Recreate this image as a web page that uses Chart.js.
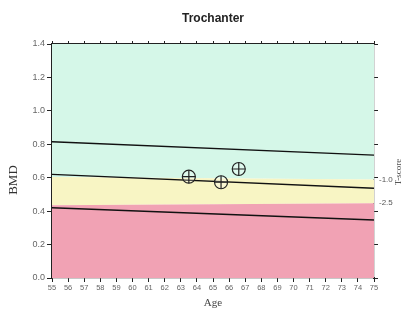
<!DOCTYPE html>
<html>
<head>
<meta charset="utf-8">
<script src="https://cdn.jsdelivr.net/npm/chart.js@4/dist/chart.umd.min.js"></script>
<style>
  html, body { margin: 0; padding: 0; background: #fff; }
  #wrap { width: 416px; height: 316px; }
</style>
</head>
<body>
<div id="wrap"><canvas id="bmdChart" width="416" height="316"></canvas></div>
<script>
// reference curve ends (age 55 and 75)
const refAges = [55, 75];
const upperLine = [0.815, 0.735];
const middleLine = [0.62, 0.537];
const lowerLine = [0.42, 0.347];

// band tops
const greenTop = [1.4, 1.4];
const yellowTop = [0.605, 0.59];
const pinkTop = [0.435, 0.447];

// patient measurements
const scanAges = [63.5, 65.5, 66.6];
const scanBmd = [0.606, 0.573, 0.652];

// T-score labels on right side
const tScoreLabels = ['-1.0', '-2.5'];
const tScoreValues = [0.588, 0.449];

const pts = (xs, ys) => xs.map((x, i) => ({ x: x, y: ys[i] }));

const band = (data, color, fillTo) => ({
  data: data,
  showLine: true,
  pointRadius: 0,
  borderWidth: 0,
  borderColor: 'rgba(0,0,0,0)',
  backgroundColor: color,
  fill: fillTo,
  order: 10
});

const refLine = (data) => ({
  data: data,
  showLine: true,
  pointRadius: 0,
  borderColor: '#111',
  borderWidth: 1.4,
  fill: false,
  order: 5
});

// extra text: BMD title, T-score labels and title
const sideText = {
  id: 'sideText',
  afterDraw(chart) {
    const ctx = chart.ctx;
    const y = chart.scales.y;
    ctx.save();
    ctx.fillStyle = '#333';
    ctx.font = '13px "Liberation Serif"';
    ctx.textAlign = 'center';
    ctx.textBaseline = 'middle';
    ctx.translate(14, 180);
    ctx.rotate(-Math.PI / 2);
    ctx.fillText('BMD', 0, 0);
    ctx.restore();

    ctx.save();
    ctx.fillStyle = '#555';
    ctx.font = '8px "Liberation Sans"';
    ctx.textAlign = 'left';
    ctx.textBaseline = 'middle';
    tScoreLabels.forEach((t, i) => {
      ctx.fillText(t, 379, y.getPixelForValue(tScoreValues[i]));
    });
    ctx.font = '9px "Liberation Serif"';
    ctx.textAlign = 'center';
    ctx.translate(399, 172);
    ctx.rotate(-Math.PI / 2);
    ctx.fillText('T-score', 0, 0);
    ctx.restore();
  }
};

const ctx = document.getElementById('bmdChart').getContext('2d');
new Chart(ctx, {
  type: 'scatter',
  data: {
    datasets: [
      band(pts(refAges, pinkTop), '#f1a2b4', 'origin'),
      band(pts(refAges, yellowTop), '#f8f5c4', 0),
      band(pts(refAges, greenTop), '#d5f7e8', 1),
      refLine(pts(refAges, upperLine)),
      refLine(pts(refAges, middleLine)),
      refLine(pts(refAges, lowerLine)),
      {
        data: pts(scanAges, scanBmd),
        pointStyle: 'circle',
        pointRadius: 6.5,
        pointBorderWidth: 1.2,
        borderColor: '#222',
        backgroundColor: 'rgba(255,255,255,0.25)',
        order: 1
      },
      {
        data: pts(scanAges, scanBmd),
        pointStyle: 'cross',
        pointRadius: 6.5,
        pointBorderWidth: 1.2,
        borderColor: '#222',
        order: 0
      }
    ]
  },
  options: {
    responsive: false,
    animation: false,
    layout: { padding: 0 },
    plugins: {
      legend: { display: false },
      tooltip: { enabled: false },
      title: {
        display: true,
        text: 'Trochanter',
        fullSize: false,
        color: '#222',
        font: { family: 'Liberation Sans', size: 12, weight: 'bold' },
        padding: { top: 11, bottom: 10 }
      }
    },
    scales: {
      x: {
        type: 'linear',
        min: 55,
        max: 75,
        afterFit: (s) => { s.height = 38; },
        ticks: {
          stepSize: 1,
          autoSkip: false,
          maxRotation: 0,
          padding: 1,
          color: '#666',
          font: { family: 'Liberation Sans', size: 7.5 }
        },
        grid: { drawOnChartArea: false, tickLength: 4, color: '#222' },
        border: { color: '#222', width: 1.2 },
        title: {
          display: true,
          text: 'Age',
          color: '#444',
          font: { family: 'Liberation Serif', size: 11 },
          padding: { top: 2, bottom: 6 }
        }
      },
      x2: {
        type: 'linear',
        position: 'top',
        min: 55,
        max: 75,
        afterFit: (s) => { s.height = 8.6; },
        ticks: { stepSize: 1, display: false },
        grid: { drawOnChartArea: false, tickLength: 3, color: '#222' },
        border: { color: '#222', width: 1.2 }
      },
      y: {
        min: 0,
        max: 1.4,
        afterFit: (s) => { s.width = 52; },
        ticks: {
          stepSize: 0.2,
          padding: 2,
          color: '#666',
          font: { family: 'Liberation Sans', size: 9 },
          callback: (v) => v.toFixed(1)
        },
        grid: { drawOnChartArea: false, tickLength: 5, color: '#222' },
        border: { color: '#222', width: 1.2 }
      },
      y2: {
        position: 'right',
        min: 0,
        max: 1.4,
        afterFit: (s) => { s.width = 42; },
        ticks: { stepSize: 0.2, display: false },
        grid: { drawOnChartArea: false, tickLength: 4, color: '#222' },
        border: { color: '#222', width: 1.2 }
      }
    }
  },
  plugins: [sideText]
});
</script>
</body>
</html>
